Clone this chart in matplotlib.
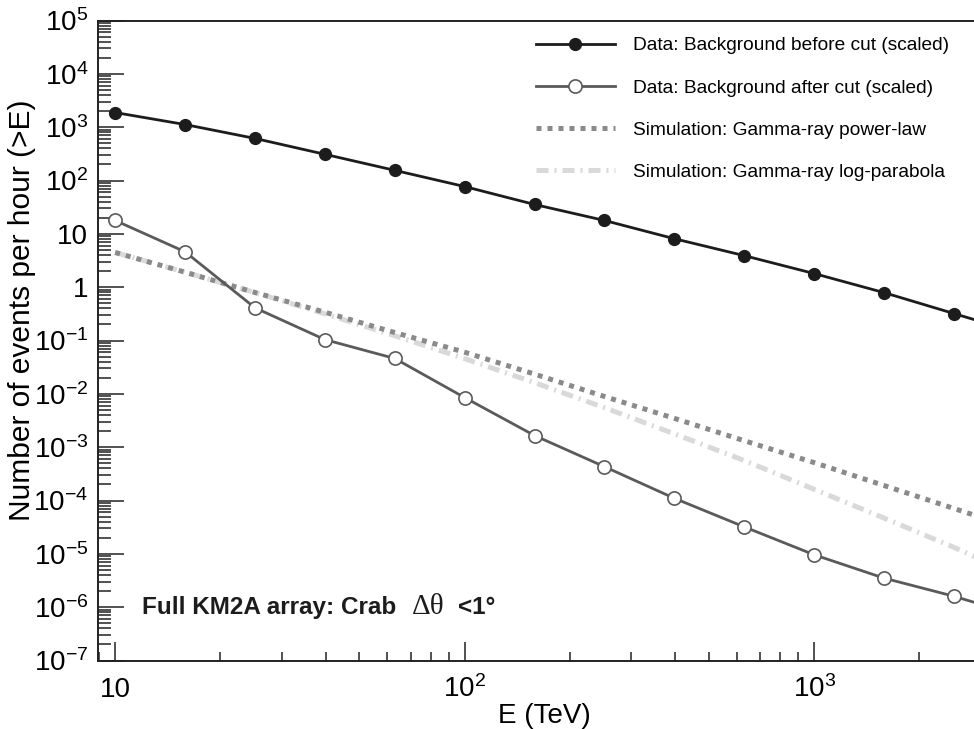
import matplotlib
matplotlib.use("Agg")
import matplotlib.pyplot as plt
from matplotlib.ticker import FixedLocator, LogLocator, FuncFormatter, NullFormatter

# ---------------- data ----------------
energy = [10, 15.85, 25.12, 39.81, 63.10, 100, 158.5, 251.2, 398.1, 631.0, 1000, 1585, 2512, 3981]
bkg_before = [1880, 1120, 615, 310, 155, 77, 35.5, 17.8, 8.1, 3.9, 1.8, 0.79, 0.32, 0.13]
bkg_after = [17.8, 4.6, 0.41, 0.104, 0.046, 0.0085, 0.00165, 4.3e-4, 1.1e-4, 3.2e-5, 9.6e-6, 3.5e-6, 1.6e-6, 6.5e-7]
sim_powerlaw = [4.47, 1.91, 0.794, 0.339, 0.141, 0.0603, 0.0234, 0.00891, 0.00347, 0.00132, 5.13e-4, 1.91e-4, 7.08e-5, 2.63e-5]
sim_logparabola = [4.47, 1.91, 0.794, 0.316, 0.123, 0.0457, 0.0162, 0.0055, 0.00178, 5.62e-4, 1.62e-4, 4.68e-5, 1.32e-5, 3.47e-6]

labels = ["Data: Background before cut (scaled)",
          "Data: Background after cut (scaled)",
          "Simulation: Gamma-ray power-law",
          "Simulation: Gamma-ray log-parabola"]
xtick_vals = [10, 100, 1000]
xtick_labels = ["10", r"$10^{2}$", r"$10^{3}$"]
ytick_exps = list(range(-7, 6))

# ---------------- style ----------------
plt.rcParams['font.family'] = ['Liberation Sans', 'DejaVu Sans']
plt.rcParams['mathtext.fontset'] = 'custom'
plt.rcParams['mathtext.rm'] = 'Liberation Sans'
plt.rcParams['mathtext.it'] = 'Liberation Sans:italic'
plt.rcParams['mathtext.bf'] = 'Liberation Sans:bold'
plt.rcParams['mathtext.default'] = 'regular'

W, H = 974, 729
fig = plt.figure(figsize=(W / 100, H / 100), dpi=100)
ax = fig.add_axes([98 / W, 1 - 660.5 / H, 1 - 98 / W, (660.5 - 20.5) / H])

ax.set_xscale('log')
ax.set_yscale('log')

ax.plot(energy, sim_powerlaw, color='#8a8a8a', lw=3.6, linestyle=(0, (1.0, 1.2)),
        dash_capstyle='butt', label=labels[2], zorder=2)
ax.plot(energy, sim_logparabola, color='#d9d9d9', lw=3.6, linestyle=(0, (2.4, 1.2, 0.4, 1.2)),
        dash_capstyle='butt', label=labels[3], zorder=1)
ax.plot(energy, bkg_after, color='#5a5a5a', lw=2.0, marker='o', markersize=9.5,
        markerfacecolor='white', markeredgecolor='#5a5a5a', markeredgewidth=1.2,
        label=labels[1], zorder=3)
ax.plot(energy, bkg_before, color='#1c1c1c', lw=2.0, marker='o', markersize=8.5,
        markerfacecolor='#1c1c1c', markeredgecolor='#1c1c1c', label=labels[0], zorder=4)

ax.set_xlim(8.93, 2866)
ax.set_ylim(1e-7, 1e5)

# axes decorations
for s in ['left', 'bottom', 'top']:
    ax.spines[s].set_linewidth(1.4)
    ax.spines[s].set_color('#222222')
ax.spines['right'].set_visible(False)

ax.xaxis.set_major_locator(FixedLocator(xtick_vals))
ax.xaxis.set_major_formatter(FuncFormatter(lambda v, p: xtick_labels[xtick_vals.index(v)] if v in xtick_vals else ""))
ax.xaxis.set_minor_locator(LogLocator(base=10, subs=range(2, 10), numticks=50))
ax.xaxis.set_minor_formatter(NullFormatter())


def yfmt(v, p):
    import math
    e = int(round(math.log10(v)))
    if e == 0:
        return "1"
    if e == 1:
        return "10"
    return r"$10^{%d}$" % e


ax.yaxis.set_major_locator(FixedLocator([10.0 ** e for e in ytick_exps]))
ax.yaxis.set_major_formatter(FuncFormatter(yfmt))
ax.yaxis.set_minor_locator(LogLocator(base=10, subs=range(2, 10), numticks=50))
ax.yaxis.set_minor_formatter(NullFormatter())

ax.tick_params(axis='both', which='both', direction='in', top=False, right=False,
               color='#222222', width=1.1)
ax.tick_params(axis='y', which='major', length=18.7, labelsize=20, pad=7)
ax.tick_params(axis='y', which='minor', length=9.4)
ax.tick_params(axis='x', which='major', length=13.7, labelsize=20, pad=26)
ax.tick_params(axis='x', which='minor', length=6.5)
for lab in ax.get_xticklabels():
    lab.set_verticalalignment('baseline')

ax.set_xlabel("E (TeV)", fontsize=20)
ax.xaxis.set_label_coords(0.51, -0.066)
ax.set_ylabel("Number of events per hour (>E)", fontsize=21.5)
ax.yaxis.set_label_coords(-0.071, 0.548)

# legend
handles, labs = ax.get_legend_handles_labels()
order = [labs.index(l) for l in labels]
leg = ax.legend([handles[i] for i in order], [labs[i] for i in order],
                loc='upper left', bbox_to_anchor=(536 / W, 1 - 37 / H),
                bbox_transform=fig.transFigure, frameon=False, fontsize=13.8,
                borderpad=0, borderaxespad=0, handlelength=4.1, handletextpad=0.94,
                labelspacing=1.29, numpoints=1)

# annotation text
base_y = 1 - 614 / H
fig.text(142 / W, base_y, "Full KM2A array: Crab", fontsize=17.5, fontweight='bold',
         va='baseline', ha='left', color='#1c1c1c')
fig.text(412 / W, base_y, "\u0394\u03b8", fontsize=21, family=['Liberation Serif', 'DejaVu Serif'],
         va='baseline', ha='left', color='#1c1c1c')
fig.text(458 / W, base_y, "<1\u00b0", fontsize=17.5, fontweight='bold',
         va='baseline', ha='left', color='#1c1c1c')

fig.savefig("out.png", dpi=100)
